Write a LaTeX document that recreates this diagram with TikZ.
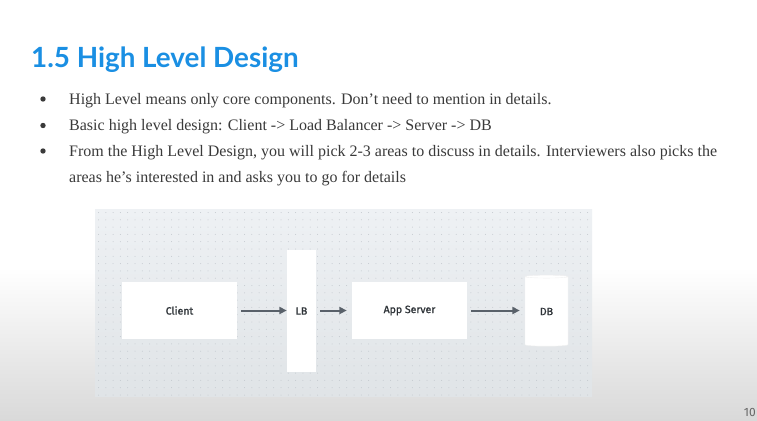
\documentclass[tikz,border=0pt]{standalone}
\usepackage{fontspec}
\setmainfont{Liberation Serif}
\newfontfamily\titlefont{Lato}
\newfontfamily\labelfont[FakeBold=1.2]{Fira Sans}
\newfontfamily\pagefont{Fira Sans}
\usetikzlibrary{shapes.geometric, arrows.meta}

\definecolor{titleblue}{HTML}{1A8FE3}
\definecolor{bodytext}{HTML}{3A3A3A}
\definecolor{panelbg}{HTML}{EEF1F4}
\definecolor{panelbot}{HTML}{E0E4E7}
\definecolor{griddot}{HTML}{C3C8CE}
\definecolor{arrowgray}{HTML}{59616A}
\definecolor{labeltext}{HTML}{2E3338}
\definecolor{slidebot}{HTML}{D9D9D9}

\tikzset{
  bodyline/.style={anchor=base west, inner sep=0pt, text=bodytext,
    font=\fontsize{16}{19}\selectfont},
  bulletdot/.style={fill=bodytext},
  block/.style={fill=white, inner sep=0pt, text=labeltext,
    font=\labelfont\fontsize{10.5}{12}\selectfont},
  wide block/.style={block, minimum width=115pt, minimum height=57pt},
  conn/.style={draw=arrowgray, line width=2pt,
    -{Triangle[length=7.5pt, width=7pt]}}
}

\begin{document}
\begin{tikzpicture}[x=1pt, y=-1pt]
  \useasboundingbox (0,0) rectangle (757,420);
  \clip (0,0) rectangle (757,420);

  % slide background: white, fading to grey at the bottom
  \fill[white] (0,0) rectangle (757,420);
  \shade[top color=white, bottom color=slidebot] (0,268) rectangle (757,420);

  % heading
  \node[anchor=base west, inner sep=0pt, text=titleblue,
        font=\titlefont\bfseries\fontsize{27.8}{32}\selectfont] (title) at (31,67)
        {1.5 High Level Design};

  % bullet list
  \fill[bulletdot] (43,99) circle (2.7);
  \fill[bulletdot] (43,125.5) circle (2.7);
  \fill[bulletdot] (43,151) circle (2.7);
  \node[bodyline] (line1) at (69,104)
    {High Level means only core components. Don’t need to mention in details.};
  \node[bodyline] (line2) at (69,130.5)
    {Basic high level design: Client -> Load Balancer -> Server -> DB};
  \node[bodyline] (line3) at (69,156)
    {From the High Level Design, you will pick 2-3 areas to discuss in details. Interviewers also picks the};
  \node[bodyline] (line4) at (69,182)
    {areas he’s interested in and asks you to go for details};

  % diagram canvas with dotted grid
  \shade[top color=panelbg, bottom color=panelbot] (95,209) rectangle (592,396);
  \foreach \i in {0,...,67} {
    \foreach \j in {0,...,25} {
      \fill[griddot] (98.5+\i*7.3, 212.5+\j*7.3) circle (0.5);
    }
  }

  % components
  \node[wide block] (client) at (179.5,310.5) {Client};
  \node[block, minimum width=29pt, minimum height=122pt] (lb) at (301.5,311) {LB};
  \node[wide block] (app) at (409.5,310.5) {App Server};
  \node[cylinder, shape border rotate=90, aspect=0.22, draw=black!6, fill=white,
        minimum width=43pt, minimum height=71pt, inner sep=0pt, text=labeltext,
        font=\labelfont\fontsize{10.5}{12}\selectfont] (db) at (546.5,311.5)
        {\raisebox{-5pt}{DB}};

  % request flow
  \draw[conn, shorten <=4pt] (client.east) -- (client.east -| lb.west);
  \draw[conn, shorten <=4pt, shorten >=5pt] (lb.east |- app.west) -- (app.west);
  \draw[conn, shorten <=4pt, shorten >=5pt] (app.east) -- (app.east -| db.west);

  % page number
  \node[anchor=base east, inner sep=0pt, text=black!60,
        font=\pagefont\fontsize{12}{14}\selectfont] (page) at (756,416) {10};
\end{tikzpicture}
\end{document}
